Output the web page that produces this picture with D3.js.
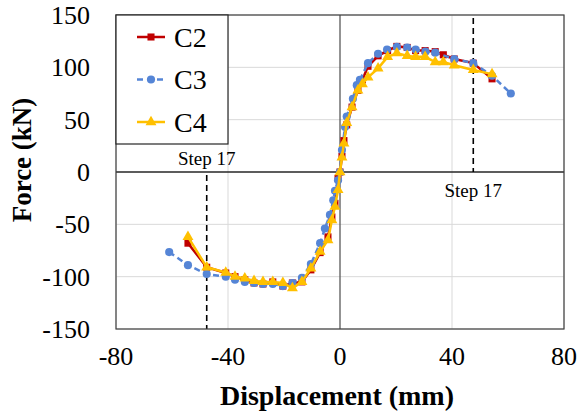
<!DOCTYPE html>
<html>
<head>
<meta charset="utf-8">
<script src="https://cdn.jsdelivr.net/npm/d3@7"></script>
<style>
  body { margin: 0; background: #fff; }
  svg text { font-family: "Liberation Serif", "Times New Roman", serif; }
</style>
</head>
<body>
<script>
// displacement steps (mm)
var dispNeg3 = [-61, -54.3, -47.6, -40.8, -37.5, -34, -30.7, -27.5, -24, -20.4, -17, -13.6, -10.4, -7.1, -5.4, -3.6, -2.4, -1.8, -0.7];
var dispPos3 = [0, 0.7, 1.8, 2.4, 4.6, 6, 7.1, 10, 13.6, 16.8, 20.3, 24, 27, 30.5, 34, 40.8, 47.6, 54.3, 61];
var dispNeg = [-54.3, -47.6, -40.8, -37.5, -34, -30.7, -27.5, -24, -20.4, -17, -13.6, -10.4, -7.1, -4.3, -2.9, -1.8, -0.7];
var dispPos = [0, 0.7, 1.4, 2.4, 4.3, 6.4, 8, 10, 13.6, 17, 20.3, 24, 27, 30.4, 34, 36.9, 40.8, 47.6, 54.3];

// forces (kN)
var c2Neg = [-68, -91, -96.5, -100, -103, -106, -107, -105, -109, -106, -105, -93.5, -77, -62, -43, -30, -6];
var c2Pos = [0, 15, 30, 45, 62, 78, 88, 101, 111, 116, 120, 119, 116, 116, 115, 112, 108, 104, 89];
var c3Neg = [-76.5, -89, -97.5, -100, -103, -105, -106, -107, -107, -109, -106, -101, -88, -68, -54, -41, -27, -18, -8];
var c3Pos = [0, 21, 43, 53, 70, 83, 88, 104, 113, 117, 119.5, 119, 117, 115, 114, 108, 104, 92, 75];
var c4Neg = [-62, -91, -96, -100, -101.5, -104, -105, -105, -106, -111, -105, -92, -76, -65, -46, -33, -17];
var c4Pos = [0, 14, 27.5, 47, 62, 78, 84, 90.5, 99, 110, 113.5, 111, 110, 110, 105, 105, 102, 97.5, 93.5];

var xTicks = [-80, -40, 0, 40, 80];
var yTicks = [-150, -100, -50, 0, 50, 100, 150];
var stepLines = [-47.6, 47.6];

var w = 580, h = 413;
var pLeft = 116, pRight = 564, pTop = 15, pBottom = 329;

var svg = d3.select("body").append("svg")
    .attr("width", w)
    .attr("height", h)
    .attr("font-family", "Liberation Serif, Times New Roman, serif");

var x = d3.scaleLinear().domain([-80, 80]).range([pLeft, pRight]);
var y = d3.scaleLinear().domain([-150, 150]).range([pBottom, pTop]);

// gridlines
svg.selectAll(".vgrid").data(xTicks.filter(function(d){ return d != 0; }))
    .enter().append("line")
    .attr("x1", function(d){ return x(d); }).attr("x2", function(d){ return x(d); })
    .attr("y1", pTop).attr("y2", pBottom)
    .style("stroke", "#d9d9d9").style("stroke-width", 1);
svg.selectAll(".hgrid").data(yTicks.filter(function(d){ return d != 0; }))
    .enter().append("line")
    .attr("x1", pLeft).attr("x2", pRight)
    .attr("y1", function(d){ return y(d); }).attr("y2", function(d){ return y(d); })
    .style("stroke", "#d9d9d9").style("stroke-width", 1);

// zero axes
svg.append("line").attr("x1", pLeft).attr("x2", pRight).attr("y1", y(0)).attr("y2", y(0))
    .style("stroke", "#262626").style("stroke-width", 1.3);
svg.append("line").attr("x1", x(0)).attr("x2", x(0)).attr("y1", pTop).attr("y2", pBottom)
    .style("stroke", "#595959").style("stroke-width", 1.3);

// step 17 dashed lines
svg.append("line").attr("x1", x(stepLines[0])).attr("x2", x(stepLines[0]))
    .attr("y1", y(0) + 3).attr("y2", pBottom)
    .style("stroke", "#000").style("stroke-width", 1.6).style("stroke-dasharray", "6,4");
svg.append("line").attr("x1", x(stepLines[1])).attr("x2", x(stepLines[1]))
    .attr("y1", pTop + 3).attr("y2", y(0))
    .style("stroke", "#000").style("stroke-width", 1.6).style("stroke-dasharray", "6,4");

svg.append("text").attr("x", x(stepLines[0])).attr("y", 165)
    .attr("text-anchor", "middle").style("font-size", "19px").text("Step 17");
svg.append("text").attr("x", x(stepLines[1])).attr("y", 197)
    .attr("text-anchor", "middle").style("font-size", "19px").text("Step 17");

// series
var series = [
    { name: "C2", xs: dispNeg.concat(dispPos), ys: c2Neg.concat(c2Pos), color: "#c00000", dash: null, shape: d3.symbolSquare, size: 50 },
    { name: "C3", xs: dispNeg3.concat(dispPos3), ys: c3Neg.concat(c3Pos), color: "#5585d6", dash: "6,4", shape: d3.symbolCircle, size: 52 },
    { name: "C4", xs: dispNeg.concat(dispPos), ys: c4Neg.concat(c4Pos), color: "#ffc000", dash: null, shape: d3.symbolTriangle, size: 52 }
];

var line = d3.line()
    .x(function(d){ return x(d[0]); })
    .y(function(d){ return y(d[1]); });

series.forEach(function(s){
    var pts = s.xs.map(function(v, i){ return [v, s.ys[i]]; });
    svg.append("path").datum(pts)
        .attr("d", line)
        .style("fill", "none")
        .style("stroke", s.color)
        .style("stroke-width", 2.5)
        .style("stroke-dasharray", s.dash);
    svg.selectAll(".m" + s.name).data(pts).enter().append("path")
        .attr("d", d3.symbol().type(s.shape).size(s.size))
        .attr("transform", function(d){ return "translate(" + x(d[0]) + "," + y(d[1]) + ")"; })
        .style("fill", s.color);
});

// plot border
svg.append("rect").attr("x", pLeft).attr("y", pTop)
    .attr("width", pRight - pLeft).attr("height", pBottom - pTop)
    .style("fill", "none").style("stroke", "#404040").style("stroke-width", 1.2);

// legend
var legend = svg.append("g");
legend.append("rect").attr("x", pLeft).attr("y", pTop).attr("width", 112).attr("height", 129)
    .style("fill", "#fff").style("stroke", "#262626").style("stroke-width", 1.2);
series.forEach(function(s, i){
    var ly = 37 + i * 42.5;
    legend.append("line").attr("x1", 137).attr("x2", 165).attr("y1", ly).attr("y2", ly)
        .style("stroke", s.color).style("stroke-width", 2.5).style("stroke-dasharray", s.dash);
    legend.append("path")
        .attr("d", d3.symbol().type(s.shape).size(s.size))
        .attr("transform", "translate(151," + ly + ")")
        .style("fill", s.color);
    legend.append("text").attr("x", 174).attr("y", ly + 9.5)
        .style("font-size", "28px").text(s.name);
});

// tick labels
svg.selectAll(".xt").data(xTicks).enter().append("text")
    .attr("x", function(d){ return x(d); }).attr("y", 365)
    .attr("text-anchor", "middle").style("font-size", "26px")
    .text(function(d){ return d; });
svg.selectAll(".yt").data(yTicks).enter().append("text")
    .attr("x", 90).attr("y", function(d){ return y(d) + 9; })
    .attr("text-anchor", "end").style("font-size", "26px")
    .text(function(d){ return d; });

// axis titles
svg.append("text").attr("x", 337).attr("y", 405)
    .attr("text-anchor", "middle").style("font-size", "28px").style("font-weight", "bold")
    .text("Displacement (mm)");
svg.append("text").attr("transform", "translate(31,160) rotate(-90)")
    .attr("text-anchor", "middle").style("font-size", "27px").style("font-weight", "bold")
    .text("Force (kN)");
</script>
</body>
</html>
